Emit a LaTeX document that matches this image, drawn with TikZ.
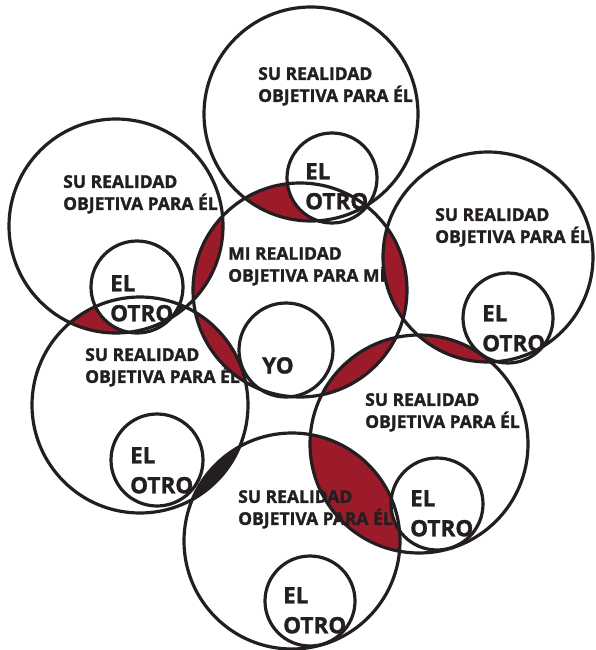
\documentclass[tikz,border=0pt]{standalone}
\usepackage{fontspec}
\setmainfont{Open Sans}[BoldFeatures={FakeBold=1.5}]
\definecolor{lensred}{RGB}{155,27,42}
\definecolor{ink}{RGB}{35,31,32}
\begin{document}
\begin{tikzpicture}[x=1pt,y=-1pt,
  ring/.style={circle, draw=ink, line width=3.2pt, inner sep=0pt, outer sep=0pt, minimum size=#1},
  bigtext/.style={font=\bfseries\fontsize{17.5}{22}\selectfont, align=left, anchor=north west, inner sep=0pt, text=ink},
  smalltext/.style={font=\bfseries\fontsize{22.5}{30}\selectfont, align=left, anchor=north west, inner sep=0pt, text=ink}]
\useasboundingbox[fill=white] (0,0) rectangle (595,650);
% centres
\coordinate (pT)  at (311,114);
\coordinate (pC)  at (300,290);
\coordinate (pLU) at (116,226);
\coordinate (pRU) at (488,257);
\coordinate (pLL) at (140,405);
\coordinate (pRL) at (419,444);
\coordinate (pB)  at (292,541);
\coordinate (sT)  at (332,178);
\coordinate (sLU) at (137,287);
\coordinate (sRU) at (508,318);
\coordinate (sLL) at (157,460);
\coordinate (sRL) at (437,504);
\coordinate (sB)  at (310,601);
\coordinate (sY)  at (286,350);
% texts that the lenses cover in part
\node[bigtext] (tC) at (228,247) {MI REALIDAD\\OBJETIVA PARA MÍ};
\node[bigtext] (tLL) at (85,348) {SU REALIDAD\\OBJETIVA PARA ÉL};
% red lenses
\foreach \a/\ra/\b/\rb in {pC/107/pT/107, pC/107/pLU/107, pC/107/pRU/105, pC/107/pLL/108,
  pC/107/pRL/109, pRU/105/pRL/109, pRL/109/pB/108, pLU/107/pLL/108}{
  \begin{scope}
    \clip (\a) circle[radius=\ra];
    \fill[lensred] (\b) circle[radius=\rb];
  \end{scope}
}
% black pieces
\begin{scope}
  \clip (pLL) circle[radius=107];
  \fill[ink] (pB) circle[radius=107];
\end{scope}
\begin{scope}
  \clip (pLU) circle[radius=107];
  \clip (pLL) circle[radius=108];
  \clip (174,295) rectangle (200,320);
  \fill[ink] (pLL) circle[radius=108];
\end{scope}
% small circles are white inside
\foreach \s/\r in {sT/45, sLU/46, sRU/45, sLL/46, sRL/46, sB/45, sY/47}{
  \fill[white] (\s) circle[radius=\r];
}
% outlines
\node[ring=214] (T)  at (pT)  {};
\node[ring=214] (C)  at (pC)  {};
\node[ring=214] (LU) at (pLU) {};
\node[ring=210] (RU) at (pRU) {};
\node[ring=216] (LL) at (pLL) {};
\node[ring=218] (RL) at (pRL) {};
\node[ring=216] (B)  at (pB)  {};
\node[ring=90] (oT)  at (sT)  {};
\node[ring=92] (oLU) at (sLU) {};
\node[ring=90] (oRU) at (sRU) {};
\node[ring=92] (oLL) at (sLL) {};
\node[ring=92] (oRL) at (sRL) {};
\node[ring=90] (oB)  at (sB)  {};
\node[ring=94] (Y)   at (sY)  {};
% texts
\node[bigtext] (tT)  at (258,67)  {SU REALIDAD\\OBJETIVA PARA ÉL};
\node[bigtext] (tLU) at (63,175)  {SU REALIDAD\\OBJETIVA PARA ÉL};
\node[bigtext] (tRU) at (435,208) {SU REALIDAD\\OBJETIVA PARA ÉL};
\node[bigtext] (tRL) at (365,393) {SU REALIDAD\\OBJETIVA PARA ÉL};
\node[bigtext] (tB)  at (238,490) {SU REALIDAD\\OBJETIVA PARA ÉL};
\node[smalltext] (xT)  at (305,163) {EL\\OTRO};
\node[smalltext] (xLU) at (110,275) {EL\\OTRO};
\node[smalltext] (xRU) at (482,305) {EL\\OTRO};
\node[smalltext] (xLL) at (130,447) {EL\\OTRO};
\node[smalltext] (xRL) at (410,490) {EL\\OTRO};
\node[smalltext] (xB)  at (283,587) {EL\\OTRO};
\node[smalltext] (xY)  at (262,357) {YO};
\end{tikzpicture}
\end{document}
